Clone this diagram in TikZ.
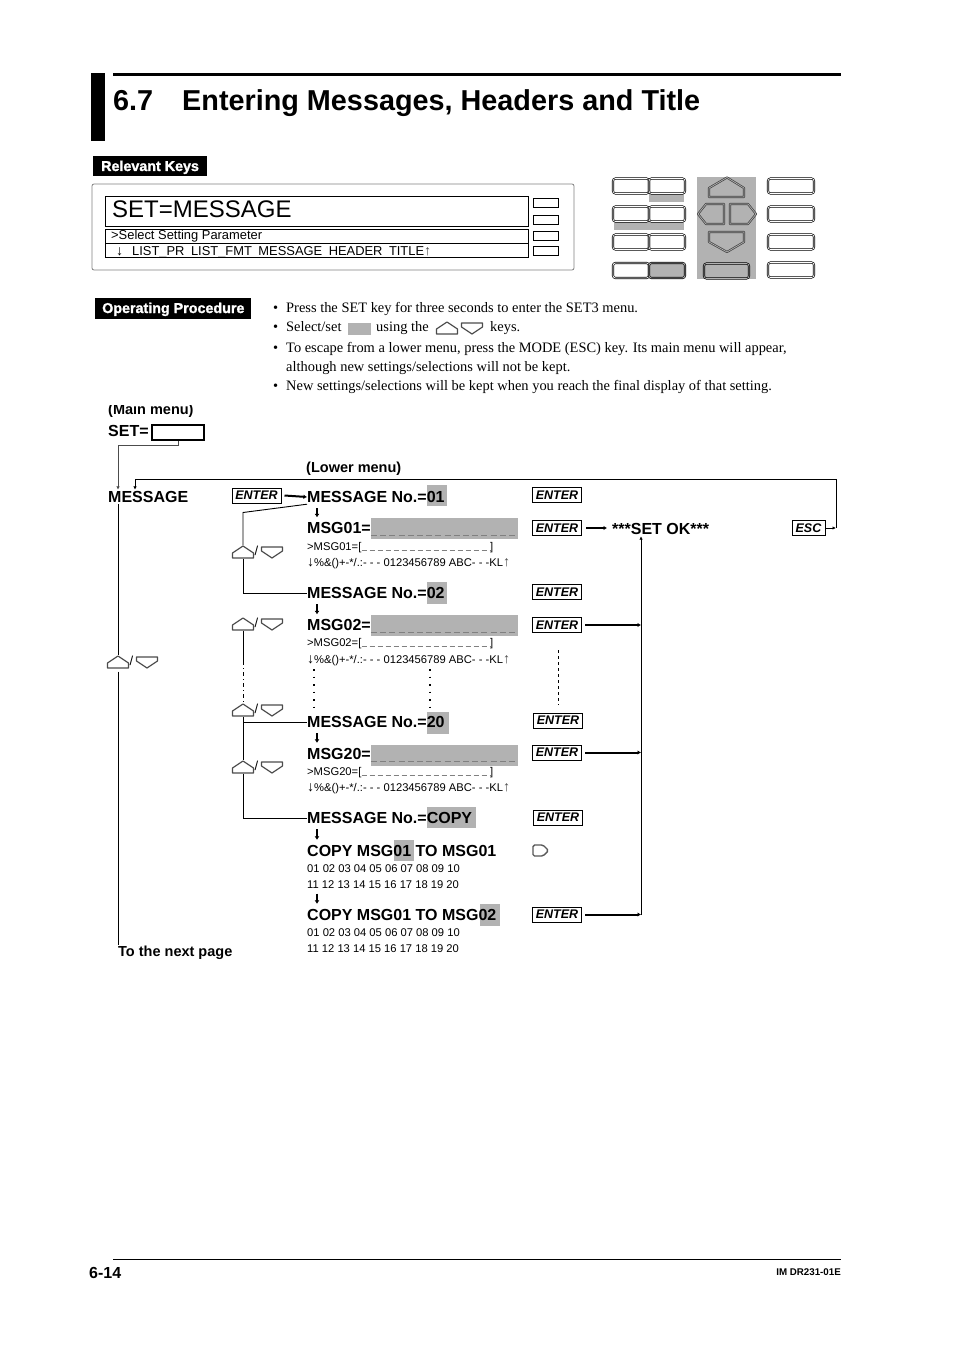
\documentclass[tikz,border=0pt]{standalone}
\usepackage{fontspec}
\setmainfont{Liberation Sans}
\newfontfamily\bodyfont{Liberation Serif}
\newfontfamily\headfont[BoldFeatures={FakeBold=1.5}]{Liberation Sans}
\usetikzlibrary{positioning}
\usetikzlibrary{calc}
\usetikzlibrary{arrows.meta}
\definecolor{keygray}{HTML}{B2B2B2}
\definecolor{dashgray}{HTML}{808080}
\newcommand{\bigdown}{{\fontsize{14}{12}\selectfont ↓}}
\newcommand{\bigup}{{\fontsize{14}{12}\selectfont\color{black!70}↑}}
\tikzset{
	keyline/.style={draw=black!70, line width=1.2pt, line join=round},
	upshape/.pic={\draw[keyline] (-10.5,6) -- (-10.5,1) -- (0,-6) -- (10.5,1) -- (10.5,6) -- cycle;},
	downshape/.pic={\draw[keyline] (-10.5,-5) -- (10.5,-5) -- (10.5,-1) -- (0,6) -- (-10.5,-1) -- cycle;},
	keypair/.pic={
		\node[inner sep=0, minimum width=21pt, minimum height=13pt] (-up) at (0,0) {};
		\pic at (0,0) {upshape};
		\node[inner sep=0, font=\fontsize{13}{14}\selectfont] (-slash) at (13.5,-1) {/};
		\pic at (29,0) {downshape};
	},
}
\begin{document}
\begin{tikzpicture}[x=1pt, y=-1pt,
		title text/.style={anchor=base west, inner sep=0, font=\fontsize{28.8}{32}\selectfont\bfseries},
		big text/.style={anchor=base west, inner sep=0, text height=12pt, text depth=2pt, font=\fontsize{16}{18}\selectfont\bfseries},
		label text/.style={anchor=base west, inner sep=0, font=\fontsize{14.5}{16}\selectfont\bfseries},
		small text/.style={anchor=base west, inner sep=0, text depth=2pt, font=\fontsize{11.2}{12}\selectfont},
		body text/.style={anchor=base west, inner sep=0, font=\fontsize{14.43}{16}\selectfont\bodyfont},
		head box/.style={anchor=base west, inner sep=0, text=white, font=\fontsize{14.3}{16}\selectfont\headfont\bfseries},
		enter box/.style={draw, line width=1pt, inner sep=0, minimum width=49pt, minimum height=15pt, font=\fontsize{12.5}{14}\selectfont\bfseries\itshape},
		key box/.style={draw=black, double, double distance=0.7pt, line width=0.7pt, rounded corners=2.5pt, inner sep=0, minimum height=15pt},
		soft box/.style={draw, line width=0.8pt, inner sep=0, minimum width=25pt, minimum height=9pt},
		edge/.style={line width=0.9pt},
		flow arrow/.style={line width=2pt, -{Latex[length=3.5pt,width=4.5pt]}},
		thin arrow/.style={line width=0.9pt, -{Latex[length=3.5pt,width=3.5pt]}},
		step arrow/.style={line width=1.6pt, shorten <=4pt, shorten >=4pt, -{Latex[length=3.5pt,width=5pt]}},
		under/.style={dashgray, line width=1pt, dash pattern=on 6pt off 3.2pt},
		dots/.style={line width=1.5pt, dash pattern=on 1.5pt off 6pt},
		hilite/.style={fill=keygray}
		]
		\useasboundingbox (0,0) rectangle (954,1351);
		\fill[white] (0,0) rectangle (954,1351);

		% title
		\fill (91,73) rectangle (105,141);
		\draw[line width=3pt] (113,75) -- (841,75);
		\node[title text] (num) at (113,110.5) {6.7};
		\node[title text] (title) at (182,110.5) {Entering Messages, Headers and Title};

		% relevant keys
		\fill (93,156) rectangle (207,176);
		\node[head box] (relkeys) at (101,171) {Relevant Keys};
		\draw[black!50, line width=0.8pt, rounded corners=2pt] (92,184) rectangle (574,270);
		\node[draw, line width=0.9pt, inner sep=0, minimum width=423pt, minimum height=30pt] (disp) at (316.5,211) {};
		\node[anchor=base west, inner sep=0, font=\fontsize{24}{28}\selectfont] (setmsg) at (112,218) {SET=MESSAGE};
		\node[draw, line width=0.9pt, inner sep=0, minimum width=423pt, minimum height=14pt] (sub1) at (316.5,236) {};
		\node[draw, line width=0.9pt, inner sep=0, minimum width=423pt, minimum height=14pt] (sub2) at (316.5,250) {};
		\node[anchor=base west, inner sep=0, font=\fontsize{12.9}{13}\selectfont] (subtext1) at (111,239) {>Select Setting Parameter};
		\node[anchor=base west, inner sep=0, font=\fontsize{12.9}{13}\selectfont] (subtext2) at (116,255) {\bigdown\hspace{9pt}LIST\_PR\hspace{6.5pt}LIST\_FMT\hspace{6.5pt}MESSAGE\hspace{6.5pt}HEADER\hspace{6.5pt}TITLE\bigup};
		\node[soft box] (soft1) at (545.5,202.5) {};
		\node[soft box] (soft2) at (545.5,219.5) {};
		\node[soft box] (soft3) at (545.5,235.5) {};
		\node[soft box] (soft4) at (545.5,251) {};

		% key panel
		\fill[hilite] (649,194) rectangle (684,202);
		\fill[hilite] (614,222) rectangle (684,230);
		\fill[hilite] (697,177) rectangle (756,279);
		\node[key box, minimum width=36pt] (key11) at (631,186) {};
		\node[key box, minimum width=36pt] (key12) at (667,186) {};
		\node[key box, minimum width=36pt] (key21) at (631,214) {};
		\node[key box, minimum width=36pt] (key22) at (667,214) {};
		\node[key box, minimum width=36pt] (key31) at (631,242) {};
		\node[key box, minimum width=36pt] (key32) at (667,242) {};
		\node[key box, minimum width=36pt] (key41) at (631,270.5) {};
		\node[key box, minimum width=36pt, fill=keygray, double=keygray] (key42) at (667,270.5) {};
		\node[key box, minimum width=45pt, fill=keygray, double=keygray] (keymid) at (726.5,271) {};
		\node[key box, minimum width=46pt] (keyr1) at (791,186) {};
		\node[key box, minimum width=46pt] (keyr2) at (791,214) {};
		\node[key box, minimum width=46pt] (keyr3) at (791,242) {};
		\node[key box, minimum width=46pt] (keyr4) at (791,270) {};
		\draw[draw=black!75, double=keygray, double distance=0.7pt, line width=0.7pt, line join=round] (709,188) -- (727,177.5) -- (744,188) -- (744,197) -- (709,197) -- cycle;
		\draw[draw=black!75, double=keygray, double distance=0.7pt, line width=0.7pt, line join=round] (698,214) -- (706,204) -- (724,204) -- (724,224) -- (706,224) -- cycle;
		\draw[draw=black!75, double=keygray, double distance=0.7pt, line width=0.7pt, line join=round] (730,204) -- (748,204) -- (756,214) -- (748,224) -- (730,224) -- cycle;
		\draw[draw=black!75, double=keygray, double distance=0.7pt, line width=0.7pt, line join=round] (709,232) -- (744,232) -- (744,242) -- (727,252) -- (709,242) -- cycle;

		% operating procedure
		\fill (95,298) rectangle (251,319);
		\node[head box] (opproc) at (102,313) {Operating Procedure};
		\node[body text] (bul1) at (273,312) {•};
		\node[body text] (line1) at (286,312) {Press the SET key for three seconds to enter the SET3 menu.};
		\node[body text] (bul2) at (273,331) {•};
		\node[body text] (line2a) at (286,331) {Select/set};
		\fill[hilite] (348,323) rectangle (371,335);
		\node[body text] (line2b) at (376,331) {using the};
		\pic at (447,328) {upshape};
		\pic at (472,328) {downshape};
		\node[body text] (line2c) at (490,331) {keys.};
		\node[body text] (bul3) at (273,352) {•};
		\node[body text] (line3) at (286,352) {To escape from a lower menu, press the MODE (ESC) key. Its main menu will appear,};
		\node[body text] (line4) at (286,371) {although new settings/selections will not be kept.};
		\node[body text] (bul5) at (273,390) {•};
		\node[body text] (line5) at (286,390) {New settings/selections will be kept when you reach the final display of that setting.};

		% main menu
		\begin{scope}
			\clip (100,405) rectangle (210,420);
			\node[label text] (mainmenu) at (108,414) {(Main menu)};
		\end{scope}
		\node[big text] (setlabel) at (108,436) {SET=};
		\node[draw, line width=1.5pt, inner sep=0, minimum width=52pt, minimum height=15pt] (setbox) at (178,432.5) {};
		\node[big text] (message) at (108,502) {MESSAGE};
		\node[label text] (lower) at (306,472) {(Lower menu)};
		\node[label text] (nextpage) at (118,956) {To the next page};
		\pic (kpmain) at (118,662) {keypair};

		% highlights
		\fill[hilite] (427,485) rectangle (447,506);
		\fill[hilite] (371,518) rectangle (518,539);
		\fill[hilite] (427,582) rectangle (447,604);
		\fill[hilite] (371,615) rectangle (518,636);
		\fill[hilite] (427,712) rectangle (449,734);
		\fill[hilite] (371,745) rectangle (518,766);
		\fill[hilite] (427,807) rectangle (476,828);
		\fill[hilite] (394,840) rectangle (414,861);
		\fill[hilite] (480,904) rectangle (500,926);

		% lower menu, first message
		\node[big text] (m1) at (307,502) {MESSAGE No.=01};
		\node[big text] (msg1) at (307,533.5) {MSG01=};
		\draw[under] (371,535) -- (518,535);
		\node[small text] (edit1) at (307,550) {>MSG01=[};
		\node[small text] (close1) at (490,550) {]};
		\draw[under, line width=0.7pt, dash pattern=on 5pt off 3pt] (edit1.base east) -- (close1.base west);
		\node[small text] (chars1) at (307,566) {\bigdown\%\&()+-*/.:- - - 0123456789 ABC- - -KL\bigup};

		% second message
		\node[big text] (m2) at (307,598) {MESSAGE No.=02};
		\node[big text] (msg2) at (307,630.5) {MSG02=};
		\draw[under] (371,632) -- (518,632);
		\node[small text] (edit2) at (307,646) {>MSG02=[};
		\node[small text] (close2) at (490,646) {]};
		\draw[under, line width=0.7pt, dash pattern=on 5pt off 3pt] (edit2.base east) -- (close2.base west);
		\node[small text] (chars2) at (307,663) {\bigdown\%\&()+-*/.:- - - 0123456789 ABC- - -KL\bigup};

		% twentieth message
		\node[big text] (m20) at (307,727) {MESSAGE No.=20};
		\node[big text] (msg20) at (307,759) {MSG20=};
		\draw[under] (371,761) -- (518,761);
		\node[small text] (edit20) at (307,775) {>MSG20=[};
		\node[small text] (close20) at (490,775) {]};
		\draw[under, line width=0.7pt, dash pattern=on 5pt off 3pt] (edit20.base east) -- (close20.base west);
		\node[small text] (chars20) at (307,791) {\bigdown\%\&()+-*/.:- - - 0123456789 ABC- - -KL\bigup};

		% copy
		\node[big text] (mcopy) at (307,823) {MESSAGE No.=COPY};
		\node[big text] (copy1) at (307,856) {COPY MSG01 TO MSG01};
		\node[small text] (nums1) at (307,872.5) {01 02 03 04 05 06 07 08 09 10};
		\node[small text] (nums2) at (307,888.5) {11 12 13 14 15 16 17 18 19 20};
		\node[big text] (copy2) at (307,920) {COPY MSG01 TO MSG02};
		\node[small text] (nums3) at (307,936.5) {01 02 03 04 05 06 07 08 09 10};
		\node[small text] (nums4) at (307,952.5) {11 12 13 14 15 16 17 18 19 20};

		% enter keys
		\node[enter box] (enter0) at (256.5,495.5) {ENTER};
		\node[enter box] (enter1) at (557,495) {ENTER};
		\node[enter box] (enter2) at (557,528) {ENTER};
		\node[enter box] (enter3) at (557,592) {ENTER};
		\node[enter box] (enter4) at (557,625) {ENTER};
		\node[enter box] (enter5) at (558,720.5) {ENTER};
		\node[enter box] (enter6) at (557,752.5) {ENTER};
		\node[enter box] (enter7) at (558,817.5) {ENTER};
		\node[enter box] (enter8) at (557,914.5) {ENTER};
		\node[enter box, minimum width=33pt] (esc) at (808.5,528) {ESC};
		\node[big text] (setok) at (612,534) {***SET OK***};
		\draw[draw=black!65, line width=1.4pt, rounded corners=1.5pt] (533,845) -- (543,845) -- (548.5,850.5) -- (543,856) -- (533,856) -- cycle;

		% key pairs
		\pic (kp1) at (243,552) {keypair};
		\pic (kp2) at (243,624) {keypair};
		\pic (kp3) at (243,710) {keypair};
		\pic (kp4) at (243,767) {keypair};

		% named free ends
		\coordinate (ckbend) at (243,512.5);
		\coordinate (setturn) at (118,445);
		\coordinate (loopa) at (836,479);
		\coordinate (loopb) at (135,479);
		\coordinate (collect) at (641,915);
		\coordinate (dashtop) at (558,650);
		\coordinate (dashbot) at (558,705);
		\coordinate (dotsa) at (314,669);
		\coordinate (dotsb) at (314,710);
		\coordinate (dotsc) at (430,669);
		\coordinate (dotsd) at (430,710);
		\coordinate (solidend) at (243,661);

		% connectors
		\draw[thin arrow, black!70] (setbox.south) -- ++(0,4.5) -| (message.north -| setturn);
		\draw[edge] (message.south -| setturn) -- (kpmain-up.north);
		\draw[edge] (kpmain-up.south) ++(0,3) -- (nextpage.north west);
		\draw[flow arrow] (enter0.east) ++(3,0) -- (m1.west);
		\draw[edge] (m1.south west) -- (ckbend) -- (kp1-up.north);
		\draw[edge] (kp1-up.south) |- (m2.west);
		\draw[edge] (kp2-up.south) -- (solidend);
		\draw[edge, dash pattern=on 4pt off 3pt on 1pt off 3pt] (solidend) -- (kp3-up.north);
		\draw[edge] (kp3-up.south) -- (kp4-up.north);
		\draw[edge] (kp3-up.south |- m20.west) -- (m20.west);
		\draw[edge] (kp4-up.south) |- (mcopy.west);
		\draw[step arrow] ([xshift=10pt]m1.south west) -- ([xshift=10pt]msg1.north west);
		\draw[step arrow] ([xshift=10pt]m2.south west) -- ([xshift=10pt]msg2.north west);
		\draw[step arrow] ([xshift=10pt]m20.south west) -- ([xshift=10pt]msg20.north west);
		\draw[step arrow] ([xshift=10pt]mcopy.south west) -- ([xshift=10pt]copy1.north west);
		\draw[step arrow, shorten <=3pt] ([xshift=10pt]nums2.south west) -- ([xshift=10pt]copy2.north west);
		\draw[dots] (dotsa) -- (dotsb);
		\draw[dots] (dotsc) -- (dotsd);
		\draw[edge, dashed] (dashtop) -- (dashbot);
		\draw[flow arrow] (enter2.east) ++(4,0) -- ++(21,0);
		\draw[flow arrow] (enter4.east) ++(3,0) -- (enter4.east -| collect);
		\draw[flow arrow] (enter6.east) ++(3,0) -- (enter6.east -| collect);
		\draw[flow arrow] (enter8.east) ++(3,0) -- (enter8.east -| collect);
		\draw[thin arrow] (collect) -- (collect |- setok.south);
		\draw[thin arrow] (esc.east) -- (esc.east -| loopa);
		\draw[edge] (esc.east -| loopa) -- (loopa) -- (loopb);
		\draw[thin arrow] (loopb) -- (loopb |- message.north);

		% footer
		\draw[line width=0.8pt] (113,1259) -- (841,1259);
		\node[big text] (pagenum) at (89,1278) {6-14};
		\node[anchor=base east, inner sep=0, font=\fontsize{9.75}{10}\selectfont\bfseries] (docid) at (841,1275) {IM DR231-01E};
	\end{tikzpicture}
\end{document}
